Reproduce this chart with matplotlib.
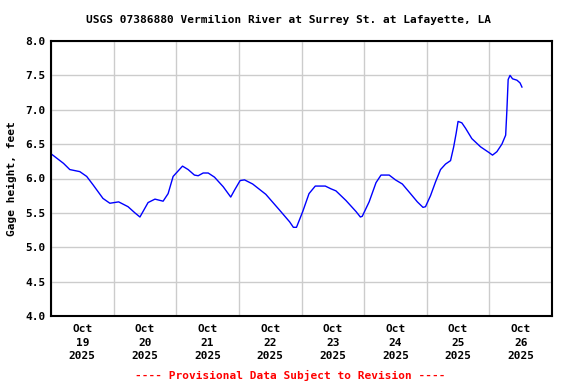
import numpy as np
import pandas as pd
import matplotlib
matplotlib.use("Agg")
import matplotlib.pyplot as plt
import matplotlib.dates as mdates

# gage height readings, time as days since Oct 19 2025 00:00
days = [0.00, 0.20, 0.30, 0.46, 0.57, 0.67, 0.83, 0.94, 1.08, 1.23, 1.34, 1.42,
        1.55, 1.66, 1.79, 1.87, 1.95, 2.10, 2.19, 2.29, 2.35, 2.43, 2.51, 2.61,
        2.75, 2.87, 2.93, 3.02, 3.09, 3.22, 3.43, 3.65, 3.81, 3.87, 3.92, 4.02,
        4.12, 4.22, 4.38, 4.47, 4.55, 4.71, 4.87, 4.94, 4.97, 5.08, 5.19, 5.27,
        5.40, 5.50, 5.61, 5.74, 5.85, 5.94, 5.98, 6.06, 6.14, 6.22, 6.30, 6.38,
        6.43, 6.47, 6.50, 6.56, 6.62, 6.72, 6.86, 6.99, 7.05, 7.12, 7.20, 7.26,
        7.28, 7.30, 7.33, 7.37, 7.44, 7.49, 7.52]
gage_ft = [6.36, 6.22, 6.13, 6.10, 6.03, 5.91, 5.71, 5.64, 5.66, 5.59, 5.50, 5.44,
           5.65, 5.70, 5.67, 5.78, 6.03, 6.18, 6.13, 6.05, 6.04, 6.08, 6.08, 6.02,
           5.88, 5.73, 5.83, 5.97, 5.98, 5.92, 5.77, 5.54, 5.37, 5.29, 5.29, 5.52,
           5.78, 5.89, 5.89, 5.85, 5.82, 5.68, 5.52, 5.44, 5.45, 5.66, 5.94, 6.05,
           6.05, 5.98, 5.92, 5.78, 5.66, 5.58, 5.59, 5.75, 5.95, 6.13, 6.21, 6.26,
           6.46, 6.66, 6.83, 6.81, 6.73, 6.58, 6.46, 6.38, 6.34, 6.39, 6.50, 6.63,
           7.00, 7.44, 7.50, 7.45, 7.43, 7.39, 7.33]

start = pd.Timestamp("2025-10-19")
times = start + pd.to_timedelta(days, unit="D")

mono = "DejaVu Sans Mono"

fig = plt.figure(figsize=(5.76, 3.84), dpi=100)
ax = fig.add_axes([51 / 576, 1 - 316 / 384, 501 / 576, 275 / 384])

ax.plot(times, gage_ft, color="#0000ff", linewidth=1.0)

ax.set_xlim(start, start + pd.Timedelta(days=8))
ax.set_ylim(4.0, 8.0)
ax.set_yticks(np.arange(4.0, 8.01, 0.5))
ax.yaxis.set_major_formatter(plt.FormatStrFormatter("%.1f"))

# gridlines at midnight, labels at noon
ax.xaxis.set_major_locator(mdates.DayLocator())
ax.xaxis.set_major_formatter(plt.NullFormatter())
ax.xaxis.set_minor_locator(mdates.HourLocator(byhour=12))
ax.xaxis.set_minor_formatter(mdates.DateFormatter("%b\n%d\n%Y"))

ax.grid(True, which="major", color="#cccccc", linewidth=1.0)
ax.tick_params(which="both", length=0)
ax.tick_params(axis="x", which="minor", pad=6)
ax.tick_params(axis="y", pad=4)
for lbl in ax.get_yticklabels() + ax.get_xticklabels(minor=True):
    lbl.set_fontfamily(mono)
    lbl.set_fontweight("bold")
    lbl.set_fontsize(8)
for lbl in ax.get_xticklabels(minor=True):
    lbl.set_linespacing(1.4)

for sp in ax.spines.values():
    sp.set_linewidth(1.5)
    sp.set_color("black")

ax.set_ylabel("Gage height, feet", fontfamily=mono, fontweight="bold", fontsize=8, labelpad=6)
fig.text(0.5, 1 - 20 / 384, "USGS 07386880 Vermilion River at Surrey St. at Lafayette, LA",
         ha="center", va="center", fontfamily=mono, fontweight="bold", fontsize=8)
fig.text(290 / 576, 1 - 375 / 384, "---- Provisional Data Subject to Revision ----",
         ha="center", va="center", color="red", fontfamily=mono, fontweight="bold", fontsize=8)

fig.savefig("out.png", dpi=100)
